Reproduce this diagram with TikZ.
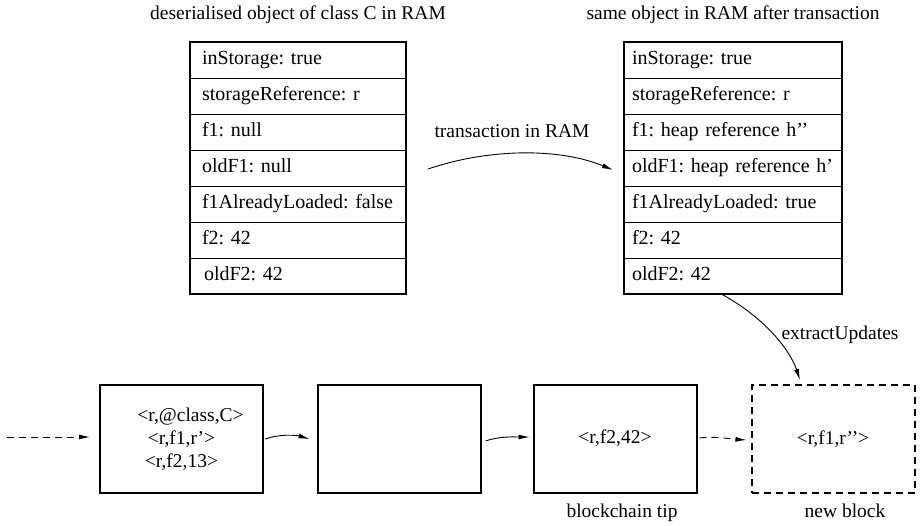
\documentclass[tikz,border=0pt]{standalone}
\usepackage{fontspec}
\setmainfont{Liberation Serif}
\frenchspacing
\usetikzlibrary{arrows.meta}
\tikzset{
  txt/.style={font=\fontsize{19.5}{23}\selectfont\frenchspacing, inner sep=0pt, text height=14pt, text depth=4pt},
  lrow/.style={txt, font=\fontsize{20}{23}\selectfont\frenchspacing, draw, line width=0.8pt, minimum width=216pt, minimum height=36pt,
    text width=192pt, inner xsep=12pt, align=left},
  rrow/.style={txt, font=\fontsize{20}{23}\selectfont\frenchspacing, draw, line width=0.8pt, minimum width=218pt, minimum height=36pt,
    text width=202pt, inner xsep=8pt, align=left},
  blk/.style={font=\fontsize{19.5}{23}\selectfont\frenchspacing, inner sep=0pt, draw, line width=2pt, minimum width=163pt, minimum height=108pt, align=center},
  arr/.style={line width=0.9pt, -{Latex[length=11pt,width=5pt]}},
  dsh/.style={dash pattern=on 7pt off 5pt}
}
\begin{document}
\begin{tikzpicture}[x=1pt,y=-1pt]
\useasboundingbox (0,0) rectangle (920,526);
% titles
\node[txt] (tl) at (298,15) {deserialised object of class C in RAM};
\node[txt] (tr) at (733,15) {same object in RAM after transaction};
% left table
\node[lrow] (L1) at (298,60) {inStorage: true};
\node[lrow] (L2) at (298,96) {storageReference: r};
\node[lrow] (L3) at (298,132) {f1: null};
\node[lrow] (L4) at (298,168) {oldF1: null};
\node[lrow] (L5) at (298,204) {f1AlreadyLoaded: false};
\node[lrow] (L6) at (298,240) {f2: 42};
\node[lrow] (L7) at (298,276) {\hspace{2pt}oldF2: 42};
\draw[line width=2pt] (L1.north west) rectangle (L7.south east);
% right table
\node[rrow] (R1) at (733,60) {inStorage: true};
\node[rrow] (R2) at (733,96) {storageReference: r};
\node[rrow] (R3) at (733,132) {f1: heap reference h’’};
\node[rrow] (R4) at (733,168) {oldF1: heap reference h’};
\node[rrow] (R5) at (733,204) {f1AlreadyLoaded: true};
\node[rrow] (R6) at (733,240) {f2: 42};
\node[rrow] (R7) at (733,276) {oldF2: 42};
\draw[line width=2pt] (R1.north west) rectangle (R7.south east);
% transaction arrow
\coordinate (tS) at (428,169);
\coordinate (tE) at (613,170);
\draw[arr] (tS) .. controls (490,148) and (560,148) .. (tE);
\node[txt] (tlab) at (512,133) {transaction in RAM};
% blocks
\node[blk] (B1) at (181.5,439) {\hspace*{18pt}<r,@class,C>\\<r,f1,r’>\\<r,f2,13>};
\node[blk] (B2) at (399,439) {};
\node[blk] (B3) at (615,439) {\raisebox{5pt}{<r,f2,42>}};
\node[blk, dsh] (B4) at (833,439) {<r,f1,r’’>};
\node[txt] (l3) at (622,512) {blockchain tip};
\node[txt] (l4) at (845,512) {new block};
% chain arrows
\coordinate (cS) at (7,437);
\draw[arr, dsh] (cS) -- ([xshift=-9pt,yshift=2pt]B1.west);
\draw[arr] ([xshift=1pt]B1.east) .. controls +(14,-5) and +(-14,-4) .. ([xshift=-7pt]B2.west);
\draw[arr] ([xshift=4pt,yshift=-2pt]B2.east) .. controls +(14,-5) and +(-14,0) .. ([xshift=-3pt,yshift=2pt]B3.west);
\draw[arr, dsh] ([xshift=2pt,yshift=1pt]B3.east) .. controls +(16,-2) and +(-16,-1) .. ([xshift=-4pt,yshift=-1pt]B4.west);
% extractUpdates
\coordinate (eS) at ([xshift=-11pt]R7.south);
\draw[arr] (eS) .. controls (765,318) and (790,350) .. ([xshift=-33pt,yshift=4pt]B4.north);
\node[txt] (elab) at (840,334) {extractUpdates};
\end{tikzpicture}
\end{document}
